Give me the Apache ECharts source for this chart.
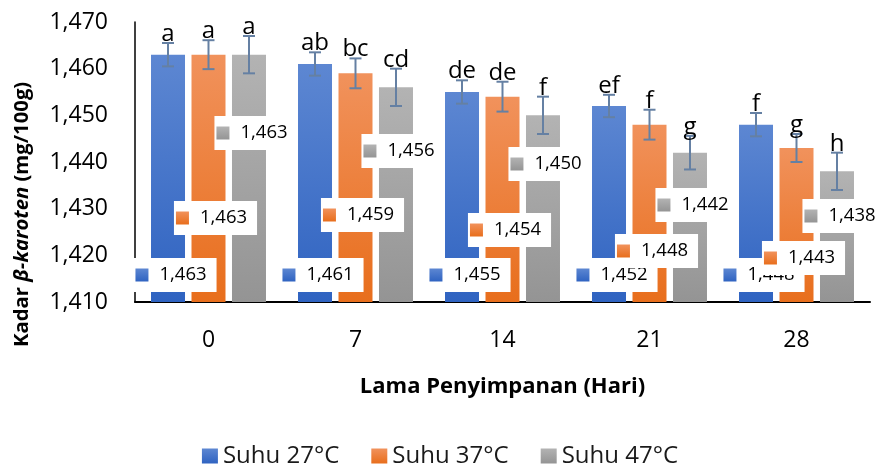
<!DOCTYPE html>
<html><head><meta charset="utf-8">
<script src="https://cdn.jsdelivr.net/npm/echarts@6/dist/echarts.min.js"></script>
<style>html,body{margin:0;padding:0;background:#fff}#c{width:880px;height:465px}</style>
</head><body><div id="c"></div>
<script>
// ---- data ----
const categories = ['0', '7', '14', '21', '28'];
const seriesNames = ['Suhu 27°C', 'Suhu 37°C', 'Suhu 47°C'];
const suhu27 = [1463, 1461, 1455, 1452, 1448];
const suhu37 = [1463, 1459, 1454, 1448, 1443];
const suhu47 = [1463, 1456, 1450, 1442, 1438];
const err27 = [2.5, 2.5, 2.5, 2.4, 2.5];
const err37 = [3.1, 3.2, 3.2, 3.2, 3.0];
const err47 = [4.0, 4.0, 4.0, 3.6, 4.0];
const notasi27 = ['a', 'ab', 'de', 'ef', 'f'];
const notasi37 = ['a', 'bc', 'de', 'f', 'g'];
const notasi47 = ['a', 'cd', 'f', 'g', 'h'];
const yMin = 1410, yMax = 1470, yStep = 10;

// ---- style / layout ----
const FONT = 'Open Sans';
const BAR_W = 34, GAP = 6.5, CAP = 6;
const ERR_C = '#6580a3';
const colors = [
  ['#5d87d2', '#2f63c1'],
  ['#f1925c', '#e86e1c'],
  ['#b3b3b3', '#949494']
];
const keyColors = colors.map(c => new echarts.graphic.LinearGradient(0, 0, 0, 1, [{offset: 0, color: c[0]}, {offset: 1, color: c[1]}]));
// label distance from bar base (px), per series per category
const labelLift = [
  [10, 10, 10, 10, 10],
  [67, 70, 55, 34, 27],
  [152, 134, 121, 80, 69]
];

const fmt = v => String(Math.round(v)).replace(/(\d)(?=(\d{3})+$)/, '$1,');
const grad = c => new echarts.graphic.LinearGradient(0, 0, 0, 1, [{offset: 0, color: c[0]}, {offset: 1, color: c[1]}]);

const values = [suhu27, suhu37, suhu47];
const errs = [err27, err37, err47];
const notes = [notasi27, notasi37, notasi47];

const barSeries = values.map((vals, s) => ({
  name: seriesNames[s],
  type: 'bar',
  barWidth: BAR_W,
  barGap: (GAP / BAR_W * 100).toFixed(1) + '%',
  itemStyle: {color: grad(colors[s])},
  data: vals.map((v, i) => ({value: v, label: {distance: labelLift[s][i]}})),
  label: {
    show: true,
    position: 'insideBottom',
    offset: [7, 0],
    backgroundColor: '#ffffff',
    padding: [5, 10, 5, 2],
    lineHeight: 24,
    formatter: p => '{k|}{v|' + fmt(p.value) + '}',
    rich: {
      k: {width: 13, height: 13, backgroundColor: keyColors[s]},
      v: {fontSize: 18.5, fontFamily: FONT, color: '#000', padding: [0, 0, 0, 11], lineHeight: 24}
    }
  },
  z: 2
}));

const errSeries = values.map((vals, s) => ({
  type: 'custom',
  z: 10,
  silent: true,
  data: vals.map((v, i) => [i, v, errs[s][i]]),
  encode: {x: 0, y: 1},
  renderItem: (params, api) => {
    const i = api.value(0), v = api.value(1), e = api.value(2);
    const off = (s - 1) * (BAR_W + GAP);
    const top = api.coord([i, v + e]);
    const bot = api.coord([i, v - e]);
    const x = top[0] + off;
    const ls = {stroke: ERR_C, lineWidth: 2};
    return {
      type: 'group',
      children: [
        {type: 'line', shape: {x1: x, y1: top[1], x2: x, y2: bot[1]}, style: ls},
        {type: 'line', shape: {x1: x - CAP, y1: top[1], x2: x + CAP, y2: top[1]}, style: ls},
        {type: 'line', shape: {x1: x - CAP, y1: bot[1], x2: x + CAP, y2: bot[1]}, style: ls},
        {type: 'text', x: x, y: top[1] + 3, style: {
          text: notes[s][params.dataIndex], align: 'center', verticalAlign: 'bottom',
          fontSize: 24, fontFamily: FONT, fill: '#000'
        }}
      ]
    };
  }
}));

const chart = echarts.init(document.getElementById('c'), null, {renderer: 'canvas'});
chart.setOption({
  animation: false,
  backgroundColor: '#fff',
  textStyle: {fontFamily: FONT},
  grid: {left: 135, right: 10, top: 22, bottom: 163},
  legend: {
    data: seriesNames,
    top: 439, left: 'center',
    icon: 'rect', itemWidth: 16, itemHeight: 15, itemGap: 32,
    textStyle: {fontSize: 24, fontFamily: FONT, color: '#1a1a1a'}
  },
  xAxis: {
    type: 'category',
    data: categories,
    axisLine: {lineStyle: {color: '#000', width: 2}},
    axisTick: {show: false},
    axisLabel: {fontSize: 23, fontFamily: FONT, color: '#000', margin: 27},
    name: 'Lama Penyimpanan (Hari)',
    nameLocation: 'middle',
    nameGap: 74,
    nameTextStyle: {fontSize: 22, fontWeight: 'bold', fontFamily: FONT, color: '#000'}
  },
  yAxis: {
    type: 'value',
    min: yMin, max: yMax, interval: yStep,
    axisLine: {show: true, lineStyle: {color: '#000', width: 1.5}},
    axisTick: {show: false},
    splitLine: {show: false},
    axisLabel: {fontSize: 23, fontFamily: FONT, color: '#000', margin: 27, formatter: fmt}
  },
  graphic: [{
    type: 'text', x: 22, y: 347, rotation: Math.PI / 2,
    style: {
      text: '{b|Kadar }{bi|β-karoten}{b| (mg/100g)}',
      align: 'left', verticalAlign: 'middle', fill: '#000',
      rich: {
        b: {fontSize: 20.3, fontWeight: 'bold', fontFamily: FONT, fill: '#000'},
        bi: {fontSize: 20.3, fontWeight: 'bold', fontStyle: 'italic', fontFamily: FONT, fill: '#000'}
      }
    }
  }],
  series: barSeries.concat(errSeries)
});
</script>
</body></html>
